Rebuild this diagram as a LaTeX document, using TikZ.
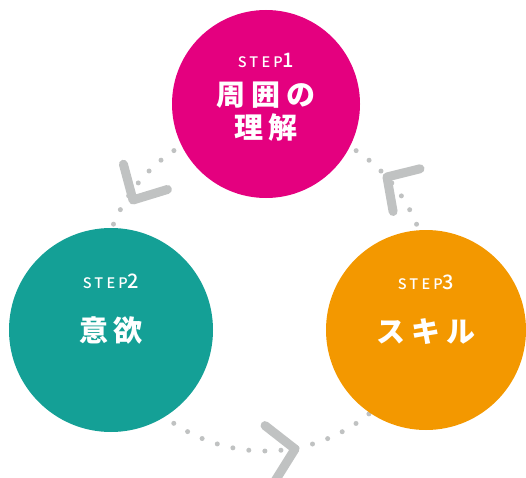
\documentclass[tikz,border=0pt]{standalone}
\usepackage{fontspec}
\usetikzlibrary{positioning}
\newfontfamily\tagfont{Noto Sans CJK JP}[UprightFont=* Medium,LetterSpace=22]
\newfontfamily\titlefont{Noto Sans CJK JP}[LetterSpace=20]
\definecolor{stepmagenta}{HTML}{E4007F}
\definecolor{stepteal}{HTML}{14A096}
\definecolor{steporange}{HTML}{F39800}
\definecolor{ringgray}{HTML}{C0C2C2}
\newcommand{\stepno}[1]{{\fontsize{20}{20}\selectfont #1}}

\begin{document}
\begin{tikzpicture}[x=1pt,y=1pt,
    stepcircle/.style={circle,inner sep=0pt},
    steptag/.style={anchor=base,inner sep=0pt,text=white,font=\tagfont\fontsize{14.5}{14.5}\selectfont},
    steptitle/.style={anchor=base,inner sep=0pt,align=center,text=white,font=\titlefont\bfseries\fontsize{29}{33}\selectfont},
    chevron/.style={draw=ringgray,line width=9pt,line cap=round,line join=round}]
  \useasboundingbox (0,0) rectangle (526,477);
  % dotted ring and chevrons
  \coordinate (ring) at (265,190);
  \draw[ringgray,line width=5pt,line cap=round,dash pattern=on 0pt off 16.1pt] (ring) circle[radius=164pt];
  \coordinate (tip12) at (133,277);
  \coordinate (tip23) at (295,28);
  \coordinate (tip31) at (387,300);
  \draw[chevron] ([shift={(105:37)}]tip12) -- (tip12) -- ([shift={(17:36)}]tip12);
  \draw[chevron] ([shift={(142:38)}]tip23) -- (tip23) -- ([shift={(238:38)}]tip23);
  \draw[chevron] ([shift={(14:34)}]tip31) -- (tip31) -- ([shift={(-80:35)}]tip31);
  % steps
  \node[stepcircle,fill=stepmagenta,minimum size=188pt] (c1) at (266,373) {};
  \node[stepcircle,fill=stepteal,minimum size=204pt] (c2) at (111,147) {};
  \node[stepcircle,fill=steporange,minimum size=200pt] (c3) at (426,147) {};
  \node[steptag] (tag1) at ([yshift=36pt]c1.center) {STEP\stepno{1}};
  \node[steptag] (tag2) at ([yshift=42pt]c2.center) {STEP\stepno{2}};
  \node[steptag] (tag3) at ([yshift=41pt]c3.center) {STEP\stepno{3}};
  \node[steptitle] (title1) at ([yshift=-35pt]c1.center) {周囲の\\理解};
  \node[steptitle] (title2) at ([yshift=-11pt]c2.center) {意欲};
  \node[steptitle] (title3) at ([yshift=-12pt]c3.center) {スキル};
\end{tikzpicture}
\end{document}
